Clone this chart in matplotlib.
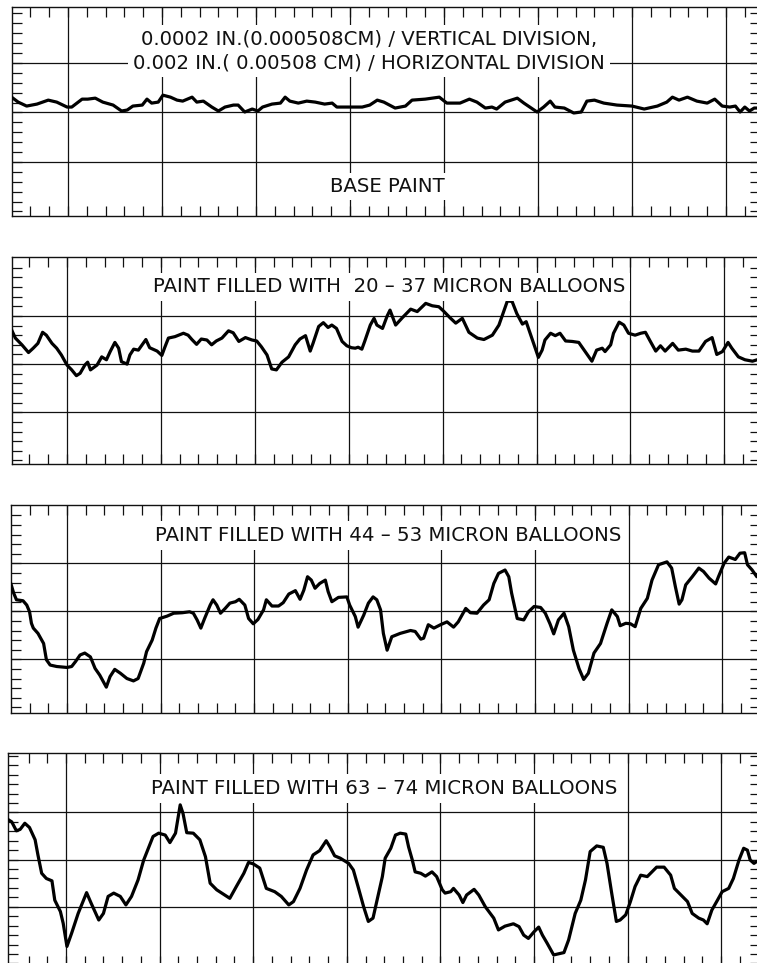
import numpy as np
import matplotlib.pyplot as plt

# ------------------------------------------------------------
# Profilometer traces.
# x: horizontal divisions (0.002 in each), grid line 0 = first full line
# y: vertical divisions (0.0002 in each), 0 = lowest major position
# ------------------------------------------------------------

base_paint = [
    (-0.60, 2.31), (-0.53, 2.21), (-0.44, 2.13), (-0.33, 2.17), (-0.21, 2.25),
    (-0.12, 2.21), (-0.01, 2.11), (0.04, 2.11), (0.15, 2.27), (0.21, 2.27),
    (0.29, 2.29), (0.37, 2.21), (0.48, 2.15), (0.57, 2.03), (0.63, 2.05),
    (0.69, 2.13), (0.79, 2.15), (0.84, 2.27), (0.89, 2.19), (0.96, 2.21),
    (1.01, 2.35), (1.09, 2.31), (1.16, 2.25), (1.22, 2.23), (1.32, 2.31),
    (1.37, 2.21), (1.44, 2.23), (1.53, 2.11), (1.60, 2.03), (1.67, 2.11),
    (1.76, 2.15), (1.81, 2.15), (1.88, 2.01), (1.96, 2.07), (2.02, 2.03),
    (2.07, 2.11), (2.17, 2.17), (2.26, 2.19), (2.31, 2.31), (2.36, 2.23),
    (2.45, 2.19), (2.54, 2.23), (2.63, 2.21), (2.73, 2.17), (2.81, 2.19),
    (2.86, 2.11), (2.97, 2.11), (3.07, 2.11), (3.13, 2.11), (3.21, 2.15),
    (3.29, 2.25), (3.36, 2.21), (3.48, 2.09), (3.59, 2.13), (3.66, 2.25),
    (3.80, 2.27), (3.95, 2.31), (4.03, 2.19), (4.17, 2.19), (4.27, 2.27),
    (4.35, 2.21), (4.44, 2.09), (4.51, 2.11), (4.56, 2.07), (4.65, 2.21),
    (4.78, 2.29), (4.85, 2.19), (4.99, 2.01), (5.06, 2.11), (5.13, 2.23),
    (5.18, 2.11), (5.28, 2.09), (5.38, 1.99), (5.46, 2.01), (5.52, 2.23),
    (5.60, 2.25), (5.70, 2.19), (5.84, 2.15), (6.00, 2.13), (6.13, 2.07),
    (6.27, 2.13), (6.37, 2.21), (6.43, 2.31), (6.50, 2.25), (6.59, 2.31),
    (6.69, 2.23), (6.80, 2.19), (6.88, 2.27), (6.96, 2.13), (7.04, 2.11),
    (7.10, 2.13), (7.15, 2.01), (7.20, 2.11), (7.25, 2.03), (7.30, 2.09),
    (7.33, 2.09),
]

balloons_20_37 = [
    (-0.59, 2.71), (-0.55, 2.54), (-0.48, 2.40), (-0.41, 2.24), (-0.36, 2.33),
    (-0.31, 2.43), (-0.26, 2.66), (-0.22, 2.60), (-0.16, 2.43), (-0.11, 2.33),
    (-0.06, 2.19), (0.00, 1.98), (0.05, 1.88), (0.10, 1.76), (0.14, 1.81),
    (0.19, 1.98), (0.22, 2.04), (0.25, 1.88), (0.32, 1.98), (0.37, 2.15),
    (0.42, 2.09), (0.46, 2.26), (0.51, 2.45), (0.55, 2.33), (0.58, 2.05),
    (0.64, 2.00), (0.67, 2.19), (0.71, 2.31), (0.76, 2.29), (0.80, 2.40),
    (0.84, 2.51), (0.88, 2.34), (0.96, 2.27), (1.01, 2.18), (1.04, 2.34),
    (1.08, 2.54), (1.15, 2.57), (1.24, 2.64), (1.29, 2.60), (1.33, 2.51),
    (1.38, 2.41), (1.43, 2.52), (1.49, 2.50), (1.54, 2.40), (1.59, 2.48),
    (1.65, 2.54), (1.72, 2.69), (1.77, 2.65), (1.83, 2.47), (1.90, 2.55),
    (1.97, 2.50), (2.02, 2.48), (2.07, 2.36), (2.13, 2.19), (2.18, 1.90),
    (2.23, 1.88), (2.29, 2.04), (2.36, 2.15), (2.43, 2.40), (2.48, 2.52),
    (2.54, 2.59), (2.59, 2.27), (2.62, 2.43), (2.68, 2.78), (2.73, 2.86),
    (2.78, 2.76), (2.82, 2.81), (2.87, 2.74), (2.93, 2.47), (2.98, 2.38),
    (3.03, 2.34), (3.07, 2.33), (3.10, 2.35), (3.14, 2.31), (3.17, 2.47),
    (3.23, 2.81), (3.27, 2.95), (3.30, 2.81), (3.36, 2.74), (3.41, 3.00),
    (3.44, 3.12), (3.50, 2.81), (3.57, 2.96), (3.66, 3.14), (3.73, 3.09),
    (3.82, 3.26), (3.89, 3.21), (3.96, 3.19), (4.01, 3.10), (4.08, 2.96),
    (4.14, 2.85), (4.21, 2.95), (4.28, 2.66), (4.37, 2.54), (4.44, 2.51),
    (4.53, 2.60), (4.60, 2.81), (4.69, 3.31), (4.74, 3.30), (4.79, 3.05),
    (4.85, 2.83), (4.89, 2.88), (4.95, 2.54), (5.00, 2.26), (5.02, 2.14),
    (5.06, 2.29), (5.09, 2.50), (5.15, 2.64), (5.20, 2.59), (5.25, 2.64),
    (5.31, 2.48), (5.38, 2.47), (5.45, 2.45), (5.50, 2.31), (5.59, 2.06),
    (5.64, 2.29), (5.70, 2.33), (5.73, 2.26), (5.79, 2.40), (5.82, 2.64),
    (5.88, 2.87), (5.93, 2.81), (5.98, 2.64), (6.05, 2.60), (6.11, 2.64),
    (6.16, 2.66), (6.21, 2.48), (6.27, 2.27), (6.32, 2.38), (6.37, 2.27),
    (6.45, 2.43), (6.51, 2.29), (6.59, 2.31), (6.66, 2.27), (6.73, 2.27),
    (6.80, 2.47), (6.87, 2.55), (6.92, 2.20), (6.98, 2.26), (7.04, 2.45),
    (7.08, 2.33), (7.15, 2.15), (7.22, 2.09), (7.30, 2.06), (7.35, 2.09),
]

balloons_44_53 = [
    (-0.60, 2.58), (-0.57, 2.38), (-0.54, 2.24), (-0.47, 2.22), (-0.43, 2.13),
    (-0.40, 1.99), (-0.38, 1.75), (-0.36, 1.65), (-0.31, 1.54), (-0.25, 1.33),
    (-0.22, 0.99), (-0.18, 0.88), (-0.11, 0.85), (0.00, 0.83), (0.05, 0.85),
    (0.09, 0.95), (0.14, 1.09), (0.19, 1.13), (0.25, 1.05), (0.30, 0.81),
    (0.35, 0.67), (0.42, 0.42), (0.46, 0.64), (0.51, 0.79), (0.57, 0.71),
    (0.64, 0.60), (0.71, 0.55), (0.76, 0.60), (0.82, 0.92), (0.85, 1.16),
    (0.91, 1.40), (0.95, 1.65), (0.99, 1.85), (1.07, 1.90), (1.14, 1.96),
    (1.23, 1.97), (1.31, 1.99), (1.35, 1.96), (1.39, 1.82), (1.43, 1.65),
    (1.47, 1.85), (1.53, 2.13), (1.56, 2.24), (1.60, 2.13), (1.64, 1.96),
    (1.69, 2.06), (1.74, 2.17), (1.80, 2.20), (1.84, 2.25), (1.90, 2.13),
    (1.94, 1.85), (1.99, 1.74), (2.04, 1.83), (2.10, 2.03), (2.13, 2.24),
    (2.19, 2.11), (2.26, 2.11), (2.31, 2.18), (2.37, 2.36), (2.44, 2.43),
    (2.49, 2.25), (2.53, 2.44), (2.57, 2.72), (2.61, 2.65), (2.65, 2.48),
    (2.70, 2.58), (2.76, 2.65), (2.79, 2.41), (2.83, 2.20), (2.90, 2.29),
    (2.99, 2.30), (3.02, 2.13), (3.08, 1.89), (3.11, 1.67), (3.17, 1.92),
    (3.22, 2.17), (3.27, 2.30), (3.31, 2.24), (3.35, 2.03), (3.38, 1.54),
    (3.42, 1.19), (3.47, 1.47), (3.56, 1.54), (3.67, 1.60), (3.72, 1.58),
    (3.78, 1.42), (3.81, 1.44), (3.86, 1.72), (3.92, 1.65), (3.99, 1.72),
    (4.06, 1.78), (4.13, 1.67), (4.18, 1.78), (4.26, 2.06), (4.31, 1.97),
    (4.38, 1.96), (4.45, 2.13), (4.51, 2.24), (4.56, 2.58), (4.61, 2.79),
    (4.68, 2.86), (4.72, 2.72), (4.75, 2.38), (4.81, 1.85), (4.88, 1.82),
    (4.93, 1.99), (4.99, 2.10), (5.06, 2.08), (5.11, 1.96), (5.16, 1.74),
    (5.20, 1.53), (5.25, 1.82), (5.31, 1.96), (5.36, 1.68), (5.41, 1.19),
    (5.47, 0.81), (5.52, 0.58), (5.57, 0.71), (5.63, 1.13), (5.70, 1.33),
    (5.77, 1.75), (5.82, 2.03), (5.88, 1.89), (5.91, 1.70), (5.97, 1.75),
    (6.02, 1.74), (6.07, 1.68), (6.13, 2.06), (6.20, 2.27), (6.25, 2.65),
    (6.32, 2.97), (6.41, 3.03), (6.46, 2.90), (6.50, 2.51), (6.54, 2.15),
    (6.57, 2.24), (6.61, 2.55), (6.68, 2.72), (6.75, 2.90), (6.80, 2.83),
    (6.86, 2.69), (6.93, 2.57), (6.96, 2.72), (7.02, 3.00), (7.07, 3.13),
    (7.14, 3.08), (7.19, 3.21), (7.24, 3.22), (7.27, 2.97), (7.32, 2.86),
    (7.37, 2.72),
]

balloons_63_74 = [
    (-0.62, 2.85), (-0.58, 2.80), (-0.53, 2.61), (-0.49, 2.64), (-0.44, 2.77),
    (-0.39, 2.68), (-0.33, 2.42), (-0.30, 2.10), (-0.26, 1.71), (-0.21, 1.60),
    (-0.15, 1.55), (-0.12, 1.14), (-0.06, 0.90), (-0.03, 0.65), (0.01, 0.16),
    (0.06, 0.44), (0.13, 0.86), (0.22, 1.30), (0.27, 1.07), (0.35, 0.72),
    (0.40, 0.86), (0.45, 1.22), (0.51, 1.29), (0.58, 1.22), (0.64, 1.04),
    (0.70, 1.22), (0.77, 1.57), (0.83, 1.99), (0.88, 2.24), (0.93, 2.49),
    (0.99, 2.56), (1.06, 2.52), (1.11, 2.36), (1.17, 2.56), (1.22, 3.16),
    (1.25, 2.98), (1.29, 2.57), (1.36, 2.56), (1.43, 2.42), (1.49, 2.06),
    (1.54, 1.50), (1.61, 1.36), (1.75, 1.18), (1.82, 1.43), (1.90, 1.71),
    (1.95, 1.94), (2.00, 1.91), (2.07, 1.82), (2.14, 1.39), (2.23, 1.32),
    (2.30, 1.22), (2.38, 1.04), (2.43, 1.11), (2.50, 1.39), (2.57, 1.78),
    (2.64, 2.10), (2.71, 2.19), (2.78, 2.40), (2.82, 2.27), (2.87, 2.08),
    (2.93, 2.03), (3.02, 1.92), (3.07, 1.78), (3.12, 1.43), (3.18, 1.00),
    (3.23, 0.69), (3.28, 0.76), (3.32, 1.11), (3.38, 1.64), (3.41, 2.03),
    (3.47, 2.24), (3.52, 2.52), (3.57, 2.56), (3.63, 2.54), (3.66, 2.27),
    (3.70, 1.99), (3.73, 1.74), (3.79, 1.71), (3.84, 1.65), (3.91, 1.74),
    (3.96, 1.64), (4.02, 1.36), (4.05, 1.29), (4.11, 1.32), (4.14, 1.39),
    (4.20, 1.25), (4.24, 1.09), (4.28, 1.25), (4.36, 1.37), (4.41, 1.25),
    (4.48, 1.00), (4.57, 0.76), (4.62, 0.51), (4.69, 0.59), (4.78, 0.64),
    (4.84, 0.58), (4.89, 0.40), (4.94, 0.33), (5.00, 0.47), (5.05, 0.57),
    (5.09, 0.40), (5.14, 0.23), (5.21, -0.02), (5.32, 0.03), (5.37, 0.30),
    (5.44, 0.86), (5.50, 1.14), (5.55, 1.57), (5.60, 2.17), (5.67, 2.29),
    (5.74, 2.26), (5.78, 1.92), (5.83, 1.29), (5.88, 0.69), (5.92, 0.72),
    (5.98, 0.83), (6.03, 1.11), (6.08, 1.43), (6.14, 1.67), (6.21, 1.64),
    (6.26, 1.74), (6.31, 1.84), (6.39, 1.84), (6.46, 1.67), (6.50, 1.39),
    (6.56, 1.27), (6.64, 1.11), (6.69, 0.86), (6.76, 0.76), (6.81, 0.72),
    (6.85, 0.64), (6.90, 0.93), (6.96, 1.14), (7.01, 1.32), (7.08, 1.39),
    (7.13, 1.60), (7.19, 1.99), (7.24, 2.24), (7.28, 2.20), (7.31, 1.99),
    (7.35, 1.92), (7.38, 1.96),
]

labels = [
    "0.0002 IN.(0.000508CM) / VERTICAL DIVISION,\n"
    "0.002 IN.( 0.00508 CM) / HORIZONTAL DIVISION",
    "PAINT FILLED WITH  20 \u2013 37 MICRON BALLOONS",
    "PAINT FILLED WITH 44 \u2013 53 MICRON BALLOONS",
    "PAINT FILLED WITH 63 \u2013 74 MICRON BALLOONS",
]
traces = [base_paint, balloons_20_37, balloons_44_53, balloons_63_74]


# ------------------------------------------------------------
# Layout (figure pixels): first grid line x, division width,
# baseline y, division height, left / top / bottom edges
# ------------------------------------------------------------
W, H = 757, 963
RIGHT = 760
panels = [
    dict(x0=68, dx=94.0, yb=211.5, dy=49.5, left=12, top=7, bottom=216,
         label_at=(3.20, 3.24)),
    dict(x0=67, dx=93.9, yb=460.5, dy=48.2, left=12, top=257, bottom=464,
         label_at=(3.43, 3.60)),
    dict(x0=67, dx=93.6, yb=707.3, dy=48.0, left=11, top=505, bottom=713,
         label_at=(3.435, 3.58)),
    dict(x0=66, dx=93.6, yb=954.0, dy=47.2, left=8, top=753, bottom=966,
         label_at=(3.40, 3.50)),
]
INK = "#111111"

fig = plt.figure(figsize=(W / 100, H / 100), dpi=100)


def strip_chart(p):
    ax = fig.add_axes([p["left"] / W, 1 - p["bottom"] / H,
                       (RIGHT - p["left"]) / W, (p["bottom"] - p["top"]) / H])
    x_lo, x_hi = (p["left"] - p["x0"]) / p["dx"], (RIGHT - p["x0"]) / p["dx"]
    y_lo, y_hi = (p["yb"] - p["bottom"]) / p["dy"], (p["yb"] - p["top"]) / p["dy"]
    ax.set_xlim(x_lo, x_hi)
    ax.set_ylim(y_lo, y_hi)

    # chart paper: minor ticks every 1/5 division, full lines on majors
    xt = np.round(np.arange(-3, 38) * 0.2, 1)
    yt = np.round(np.arange(-1, 22) * 0.2, 1)
    ax.set_xticks(xt[(xt > x_lo + 0.08) & (xt < x_hi - 0.02)])
    ax.set_yticks(yt[(yt > y_lo + 0.04) & (yt < y_hi - 0.04)])
    ax.tick_params(direction="in", length=7.5, width=0.9, color=INK,
                   top=True, bottom=True, left=True, right=True,
                   labelbottom=False, labelleft=False)
    for s in ax.spines.values():
        s.set_linewidth(1.0)
        s.set_color(INK)
    for i in range(8):
        ax.axvline(i, color=INK, lw=0.9, zorder=1)
    for j in (1, 2, 3):
        ax.axhline(j, color=INK, lw=0.9, zorder=1)
    return ax


for k, p in enumerate(panels):
    ax = strip_chart(p)
    xs, ys = zip(*traces[k])
    ax.plot(xs, ys, color="black", lw=2.3, solid_joinstyle="round",
            solid_capstyle="round", zorder=3)
    ax.text(*p["label_at"], labels[k], ha="center", va="center",
            fontsize=14.2, color=INK, linespacing=1.3, zorder=4,
            bbox=dict(boxstyle="square,pad=0.25", fc="white", ec="none"))

# second label in the top strip
fig.axes[0].text(3.40, 0.50, "BASE PAINT", ha="center", va="center",
                 fontsize=14.2, color=INK, zorder=4,
                 bbox=dict(boxstyle="square,pad=0.2", fc="white", ec="none"))

fig.savefig("out.png", dpi=100, facecolor="white")
